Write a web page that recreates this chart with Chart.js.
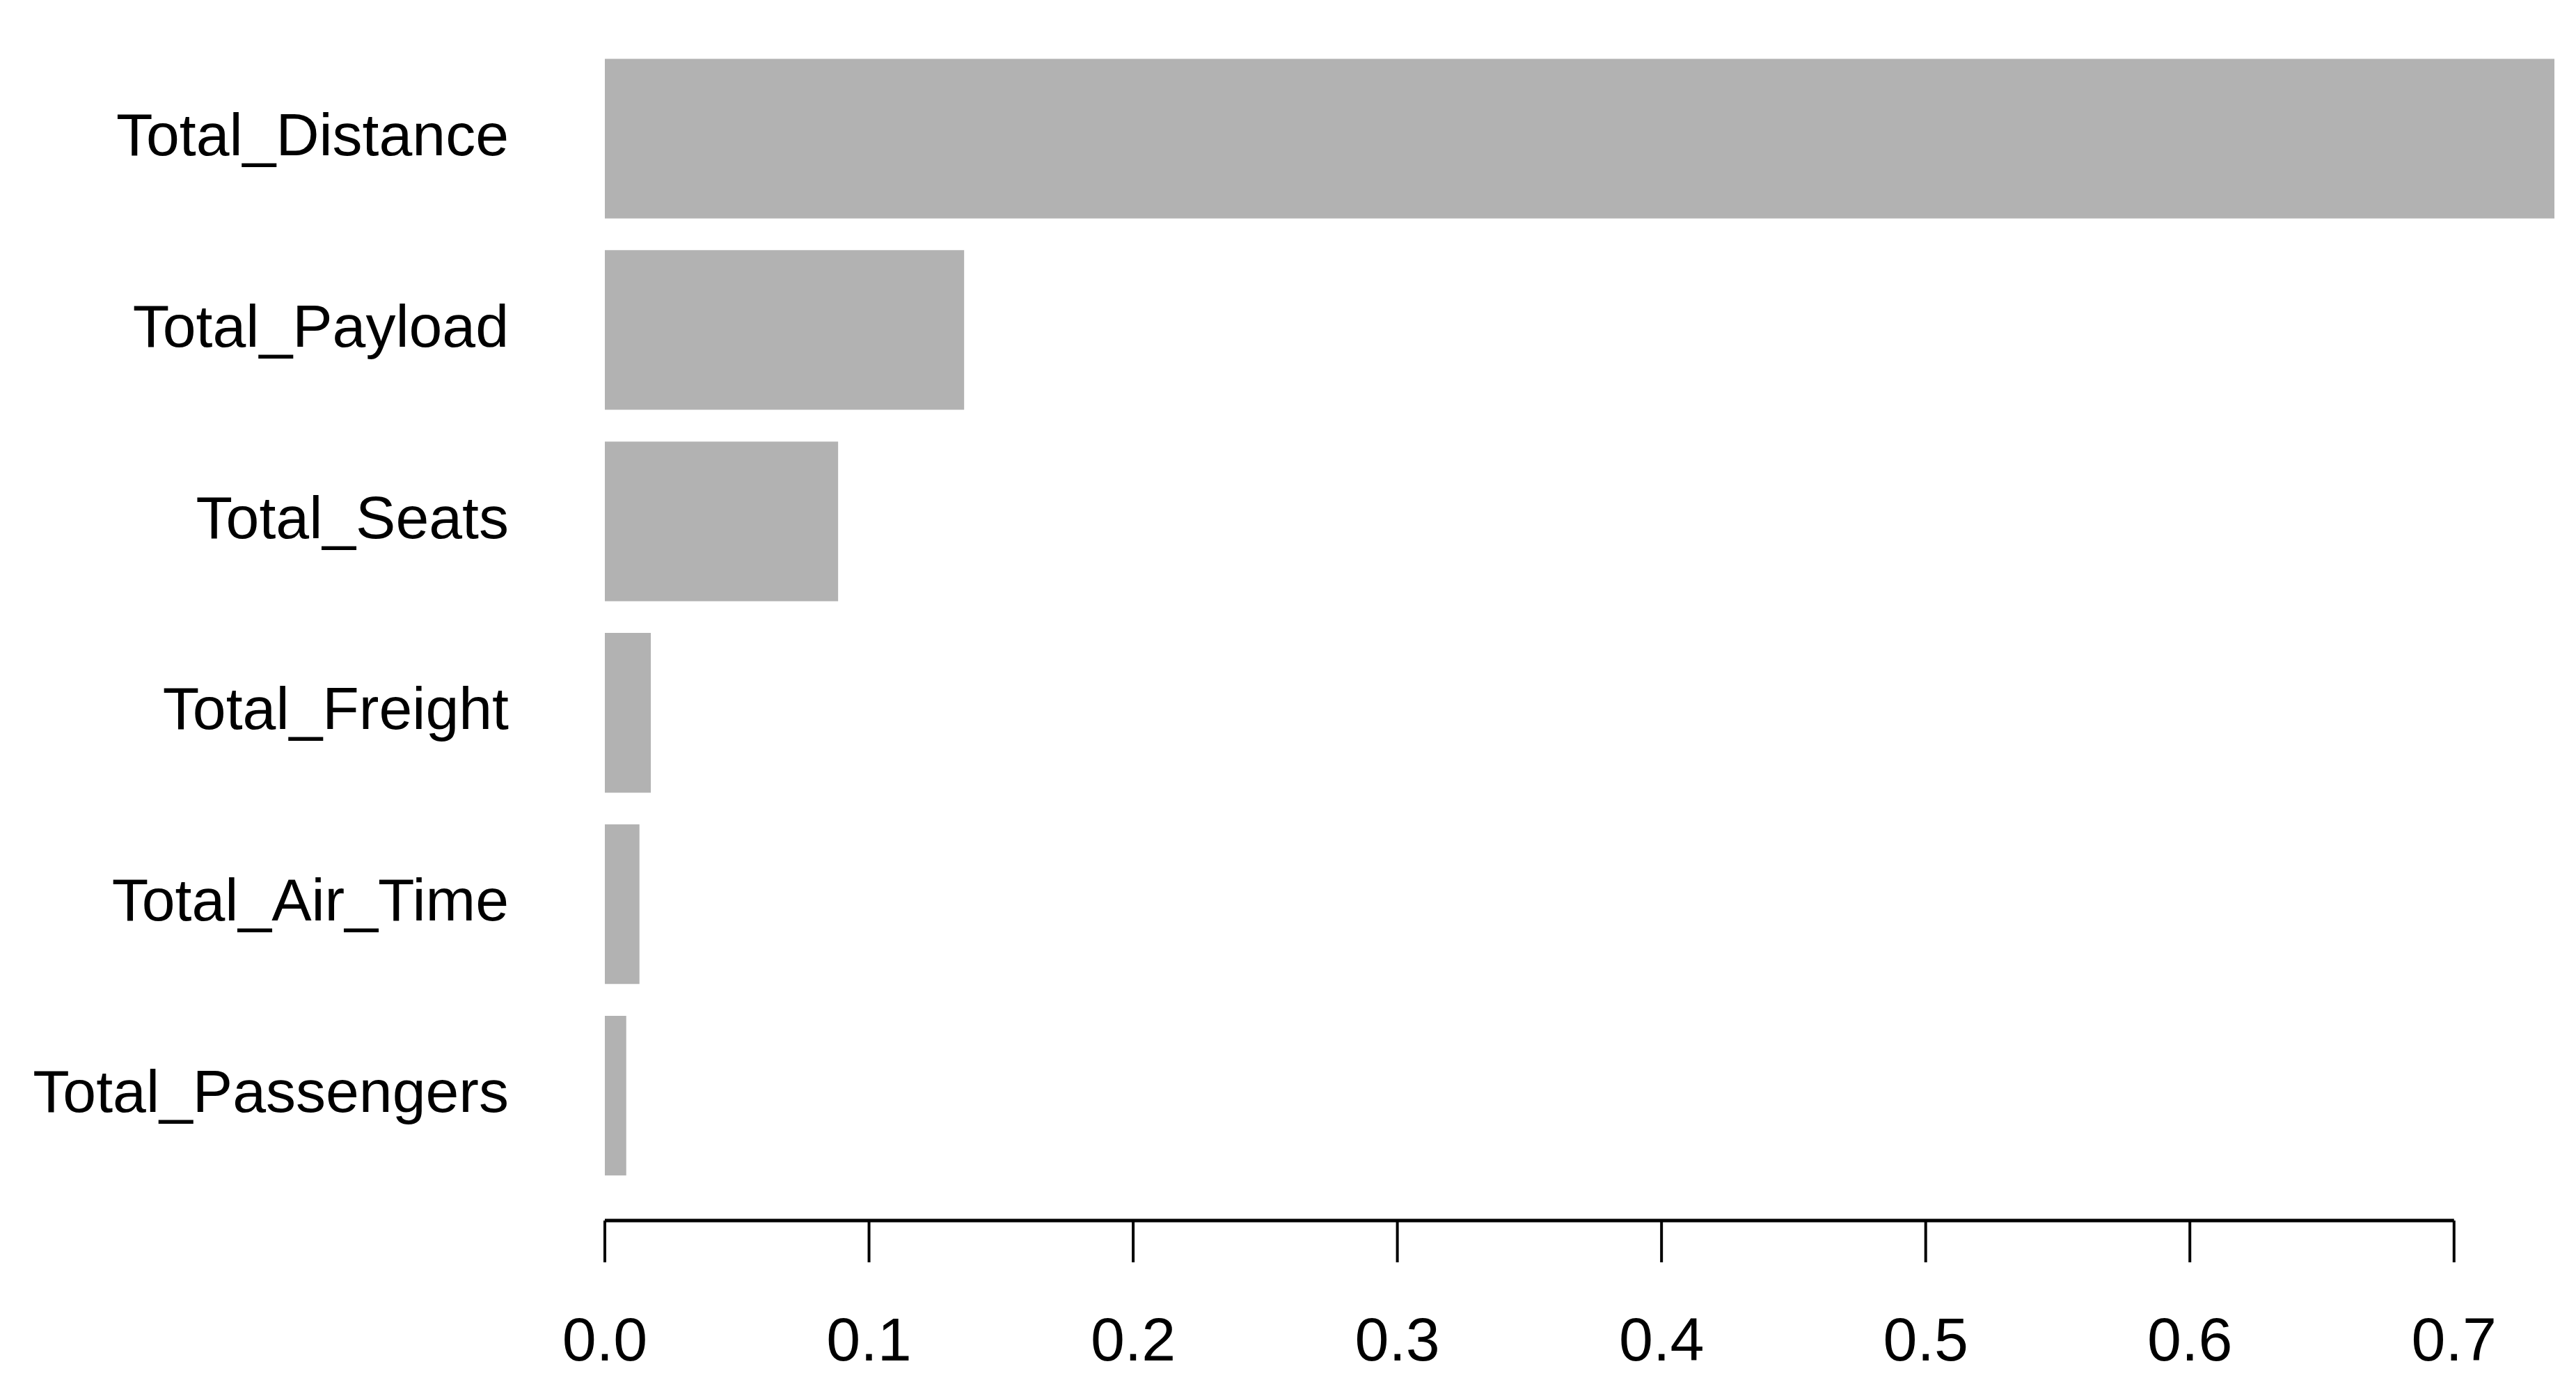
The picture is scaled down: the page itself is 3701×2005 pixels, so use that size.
<!DOCTYPE html>
<html><head><meta charset="utf-8">
<script src="https://cdn.jsdelivr.net/npm/chart.js@4"></script>
<style>html,body{margin:0;padding:0;background:#fff}#w{width:3701px;height:2005px}</style>
</head><body><div id="w"><canvas id="c"></canvas></div>
<script>
const categories = ["Total_Distance","Total_Payload","Total_Seats","Total_Freight","Total_Air_Time","Total_Passengers"];
const values = [0.738,0.136,0.0883,0.0174,0.0131,0.0081];
const xTicks = [0,0.1,0.2,0.3,0.4,0.5,0.6,0.7];
const xTickLabels = ["0.0","0.1","0.2","0.3","0.4","0.5","0.6","0.7"];
const FONT = "'Liberation Sans', Arial, Helvetica, sans-serif";

const axisPlugin = {
  id:'rAxis',
  afterDraw(chart){
    const ctx = chart.ctx, xs = chart.scales.x;
    const y0 = 1753, tl = 60;
    const a = xs.getPixelForValue(xTicks[0]), b = xs.getPixelForValue(xTicks[xTicks.length-1]);
    ctx.save();
    ctx.strokeStyle = '#000'; ctx.lineWidth = 5;
    ctx.beginPath(); ctx.moveTo(a, y0); ctx.lineTo(b, y0); ctx.stroke();
    ctx.lineWidth = 4;
    ctx.fillStyle = '#000'; ctx.font = `88px ${FONT}`; ctx.textAlign='center'; ctx.textBaseline='middle';
    xTicks.forEach((t,i)=>{
      const p = xs.getPixelForValue(t);
      ctx.beginPath(); ctx.moveTo(p, y0); ctx.lineTo(p, y0+tl); ctx.stroke();
      ctx.fillText(xTickLabels[i], p, 1930);
    });
    ctx.restore();
  }
};

new Chart(document.getElementById('c'), {
  type:'bar',
  data:{labels:categories, datasets:[{data:values, backgroundColor:'#b2b2b2', borderWidth:0, barPercentage:0.834, categoryPercentage:1}]},
  options:{
    indexAxis:'y', responsive:true, maintainAspectRatio:false, animation:false,
    layout:{padding:{top:12,bottom:294,right:31,left:0}},
    plugins:{legend:{display:false},tooltip:{enabled:false}},
    scales:{
      x:{display:false,min:0,max:0.738},
      y:{grid:{display:true,drawOnChartArea:false,drawTicks:true,tickLength:128,color:'rgba(0,0,0,0)'},border:{display:false},
         ticks:{padding:10,color:'#000',font:{family:FONT,size:86}},
         afterFit(s){s.width=869;}}
    }
  },
  plugins:[axisPlugin]
});
</script></body></html>
